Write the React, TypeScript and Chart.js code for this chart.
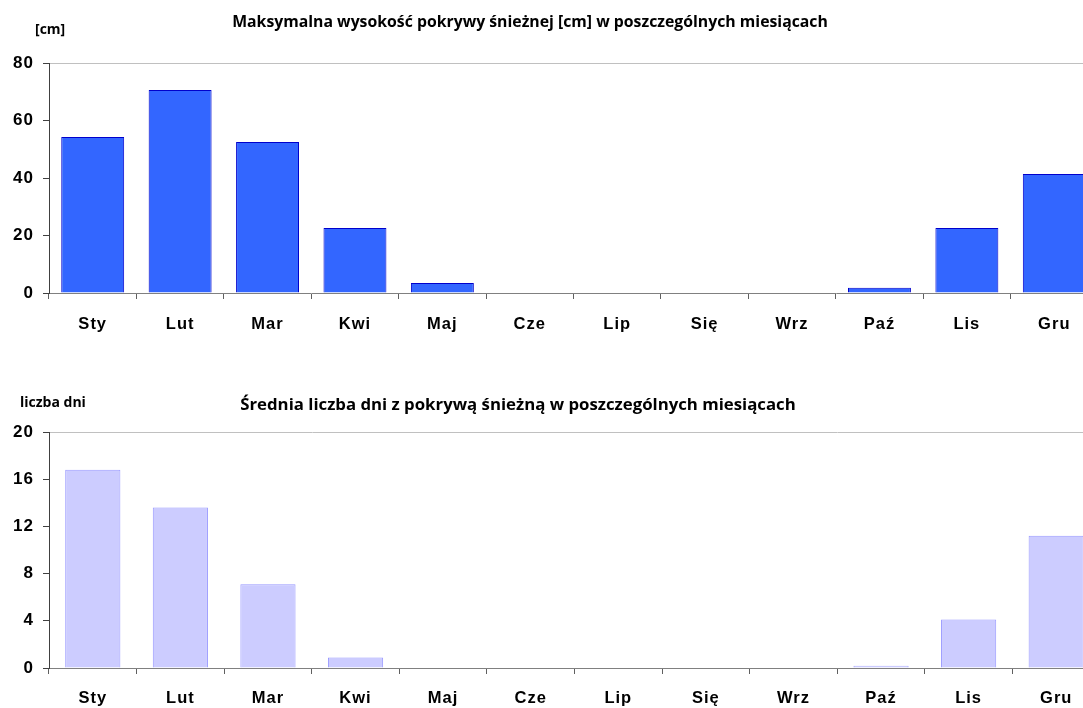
import React, { useEffect, useRef } from "react";
import { Chart, registerables } from "chart.js";

Chart.register(...registerables);

const months = ["Sty", "Lut", "Mar", "Kwi", "Maj", "Cze", "Lip", "Się", "Wrz", "Paź", "Lis", "Gru"];
const maxSnowDepth = [54.3, 70.6, 52.5, 22.6, 3.5, 0, 0, 0, 0, 1.8, 22.6, 41.4];
const snowCoverDays = [16.8, 13.6, 7.1, 0.9, 0, 0, 0, 0, 0, 0.2, 4.1, 11.2];
const topTitle = "Maksymalna wysokość pokrywy śnieżnej [cm] w poszczególnych miesiącach";
const topAxisTitle = "[cm]";
const bottomTitle = "Średnia liczba dni z pokrywą śnieżną w poszczególnych miesiącach";
const bottomAxisTitle = "liczba dni";
const topMax = 80;
const topStep = 20;
const bottomMax = 20;
const bottomStep = 4;

const overlayText = {
  id: "overlayText",
  beforeDraw(chart: any) {
    (chart.ctx as any).letterSpacing = "1px";
  },
  beforeDatasetsDraw(chart: any) {
    (chart.ctx as any).letterSpacing = "0px";
  },
  afterDraw(chart: any, _args: any, opts: any) {
    const ctx = chart.ctx;
    ctx.save();
    (ctx as any).letterSpacing = "0px";
    ctx.fillStyle = "#000";
    ctx.textBaseline = "middle";
    for (const it of opts.items || []) {
      ctx.font = it.font;
      ctx.textAlign = it.align || "left";
      ctx.fillText(it.text, it.x, it.y);
    }
    ctx.restore();
  },
};

function makeConfig(p: {
  data: number[];
  max: number;
  step: number;
  bg: string;
  border: string;
  barPct: number;
  top: number;
  xHeight: number;
  items: any[];
  tickPad: number;
}) {
  return {
    type: "bar",
    data: {
      labels: months,
      datasets: [
        {
          data: p.data,
          backgroundColor: p.bg,
          borderColor: p.border,
          borderWidth: 1,
          borderSkipped: "bottom",
          barPercentage: p.barPct,
          categoryPercentage: 1,
        },
      ],
    },
    options: {
      animation: false,
      responsive: false,
      maintainAspectRatio: false,
      layout: { padding: { top: p.top, left: 0, right: 0, bottom: 0 } },
      plugins: {
        legend: { display: false },
        tooltip: { enabled: false },
        title: { display: false },
        overlayText: { items: p.items },
      },
      scales: {
        x: {
          afterFit: (s: any) => {
            s.height = p.xHeight;
          },
          border: { display: true, color: "#808080", width: 1 },
          grid: {
            offset: true,
            drawOnChartArea: false,
            drawTicks: true,
            tickLength: 6,
            tickColor: "#606060",
          },
          ticks: {
            color: "#000",
            padding: p.tickPad,
            font: { family: "'Liberation Sans', Arial, sans-serif", size: 16.5, weight: "bold" },
            maxRotation: 0,
            autoSkip: false,
          },
        },
        y: {
          min: 0,
          max: p.max,
          afterFit: (s: any) => {
            s.width = 49;
          },
          border: { display: true, color: "#404040", width: 1 },
          grid: {
            drawTicks: true,
            tickLength: 6,
            tickColor: "#404040",
            color: (c: any) => (c.tick && c.tick.value === p.max ? "#c0c0c0" : "rgba(0,0,0,0)"),
          },
          ticks: {
            stepSize: p.step,
            color: "#000",
            padding: 9,
            font: { family: "'Liberation Sans', Arial, sans-serif", size: 17, weight: "bold" },
          },
        },
      },
    },
    plugins: [overlayText],
  } as any;
}

function BarChart(props: { width: number; height: number; config: any; style: React.CSSProperties }) {
  const ref = useRef<HTMLCanvasElement>(null);
  useEffect(() => {
    if (!ref.current) return;
    const chart = new Chart(ref.current, props.config);
    return () => chart.destroy();
  }, []);
  return (
    <canvas
      ref={ref}
      width={props.width}
      height={props.height}
      style={{ position: "absolute", display: "block", width: props.width, height: props.height, ...props.style }}
    />
  );
}

export default function App() {
  const axisFont = "bold 14px 'Open Sans', sans-serif";
  const topCfg = makeConfig({
    data: maxSnowDepth,
    max: topMax,
    step: topStep,
    bg: "#3366FF",
    border: "#0000CC",
    barPct: 0.72,
    top: 63,
    xHeight: 52,
    tickPad: 16,
    items: [
      { text: topTitle, x: 530, y: 22, font: "bold 15.8px 'Open Sans', sans-serif", align: "center" },
      { text: topAxisTitle, x: 35, y: 30, font: axisFont, align: "left" },
    ],
  });
  const bottomCfg = makeConfig({
    data: snowCoverDays,
    max: bottomMax,
    step: bottomStep,
    bg: "#CCCCFF",
    border: "#9999FF",
    barPct: 0.63,
    top: 72,
    xHeight: 40,
    tickPad: 15,
    items: [
      { text: bottomTitle, x: 518, y: 45, font: "bold 16.8px 'Open Sans', sans-serif", align: "center" },
      { text: bottomAxisTitle, x: 20, y: 43, font: axisFont, align: "left" },
    ],
  });
  return (
    <div style={{ position: "fixed", left: 0, top: 0, width: 1083, height: 708, overflow: "hidden", background: "#fff" }}>
      <BarChart width={1098} height={345} config={topCfg} style={{ left: 0, top: 0 }} />
      <BarChart width={1100} height={348} config={bottomCfg} style={{ left: 0, top: 360 }} />
    </div>
  );
}
